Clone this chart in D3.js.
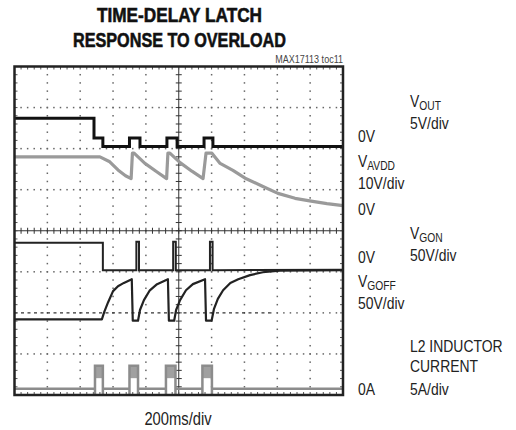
<!DOCTYPE html>
<html>
<head>
<meta charset="utf-8">
<script src="https://cdn.jsdelivr.net/npm/d3@7"></script>
<style>
  body { margin: 0; background: #fff; }
  svg text { font-family: "Liberation Sans", Arial, sans-serif; fill: #222; }
</style>
</head>
<body>
<svg id="chart" width="516" height="430"></svg>
<script>
// scope screen: x in divisions (200ms/div), y in divisions from the bottom edge
const xDivs = 10;
const yDivs = 8;

// VOUT (black, top trace)
const vout = [[0, 6.74], [2.42, 6.74], [2.42, 6.26], [2.69, 6.26], [2.69, 6.05], [3.5, 6.05], [3.5, 6.26],
  [3.82, 6.26], [3.82, 6.05], [4.64, 6.05], [4.64, 6.26], [4.95, 6.26], [4.95, 6.05], [5.77, 6.05],
  [5.77, 6.26], [6.04, 6.26], [6.04, 6.05], [10, 6.05]];

// VAVDD (grey)
const vavdd = [[0, 5.8], [2.6, 5.8], [2.9, 5.68], [3.15, 5.48], [3.38, 5.34], [3.55, 5.27], [3.59, 5.89],
  [3.64, 5.89], [3.97, 5.64], [4.34, 5.43], [4.63, 5.27], [4.67, 5.89], [4.73, 5.89], [5.04, 5.66],
  [5.4, 5.45], [5.74, 5.27], [5.83, 5.89], [6.01, 5.89], [6.26, 5.64], [6.65, 5.47], [7.02, 5.28],
  [7.53, 5.09], [8.02, 4.91], [8.54, 4.79], [9.03, 4.72], [9.51, 4.66], [10, 4.61]];

// VGON (black)
const vgon = [[0, 3.71], [2.69, 3.71], [2.69, 3.04], [3.71, 3.04], [3.71, 3.73], [3.79, 3.73], [3.79, 3.04],
  [4.83, 3.04], [4.83, 3.73], [4.91, 3.73], [4.91, 3.04], [5.95, 3.04], [5.95, 3.73], [6.03, 3.73],
  [6.03, 3.04], [10, 3.05]];

// VGOFF (black)
const vgoff = [[0, 1.84], [2.66, 1.84], [2.73, 2.02], [2.85, 2.26], [3.0, 2.53], [3.15, 2.65], [3.33, 2.73],
  [3.57, 2.82], [3.6, 1.81], [3.76, 1.81], [3.82, 2.07], [3.94, 2.31], [4.12, 2.55], [4.34, 2.7],
  [4.67, 2.82], [4.7, 1.81], [4.86, 1.81], [4.92, 2.07], [5.04, 2.31], [5.22, 2.55], [5.43, 2.7],
  [5.8, 2.82], [5.83, 1.81], [6.0, 1.81], [6.07, 2.09], [6.19, 2.34], [6.35, 2.55], [6.57, 2.73],
  [6.81, 2.82], [7.17, 2.92], [7.56, 2.99], [8.08, 3.03], [10, 3.04]];

// L2 inductor current: baseline level and switching bursts [start, end, top]
const iBase = 0.15;
const iBursts = [[2.45, 2.69, 0.71], [3.5, 3.76, 0.71], [4.61, 4.9, 0.71], [5.72, 6.01, 0.71]];

// dashed reference line on the screen [level, from, to]
const refLine = [2, 0, 7.78];

const titleLines = ["TIME-DELAY LATCH", "RESPONSE TO OVERLOAD"];

// right-hand labels: [x, baseline, main, subscript]
const labels = [
  [410, 107, "V", "OUT"], [410, 129, "5V/div", ""], [358, 142, "0V", ""],
  [358, 167, "V", "AVDD"], [358, 189, "10V/div", ""], [358, 215, "0V", ""],
  [410, 239, "V", "GON"], [410, 261, "50V/div", ""], [358, 263, "0V", ""],
  [358, 287, "V", "GOFF"], [358, 309, "50V/div", ""],
  [410, 352, "L2 INDUCTOR", ""], [410, 372, "CURRENT", ""], [410, 395, "5A/div", ""], [358, 395, "0A", ""]
];

const svg = d3.select("#chart");
const x = d3.scaleLinear().domain([0, xDivs]).range([14.5, 343]);
const y = d3.scaleLinear().domain([0, yDivs]).range([395, 66.5]);
const narrow = 0.82; // squeeze Arial metrics toward Helvetica Condensed

// title
svg.selectAll("text.title")
  .data(titleLines)
  .join("text")
  .attr("class", "title")
  .attr("x", 179.5)
  .attr("y", (d, i) => 21.5 + i * 25)
  .attr("text-anchor", "middle")
  .attr("textLength", (d, i) => [165, 213][i])
  .attr("lengthAdjust", "spacingAndGlyphs")
  .style("font-size", "21px")
  .style("font-weight", "bold")
  .style("fill", "#111")
  .style("stroke", "#111")
  .style("stroke-width", "0.6px")
  .text((d) => d);

svg.append("text")
  .attr("transform", `translate(343,63) scale(${narrow},1)`)
  .attr("text-anchor", "end")
  .style("font-size", "11px")
  .style("fill", "#444")
  .text("MAX17113 toc11");

// grid: dotted lines every division, 5 dots per division
const g = svg.append("g");
const minorX = d3.range(0, xDivs * 5 + 1).map((k) => k / 5);
const minorY = d3.range(0, yDivs * 5 + 1).map((k) => k / 5);

d3.range(1, xDivs).filter((i) => i !== 5).forEach((i) => {
  g.selectAll(null)
    .data(minorY.slice(1, -1))
    .join("rect")
    .attr("x", x(i) - 0.75).attr("y", (d) => y(d) - 0.75)
    .attr("width", 1.5).attr("height", 1.5)
    .attr("fill", "#666");
});
d3.range(1, yDivs).filter((i) => i !== 4).forEach((i) => {
  g.selectAll(null)
    .data(minorX.slice(1, -1).filter((d) => !(i === refLine[0] && d >= refLine[1] && d <= refLine[2])))
    .join("rect")
    .attr("x", (d) => x(d) - 0.75).attr("y", y(i) - 0.75)
    .attr("width", 1.5).attr("height", 1.5)
    .attr("fill", "#666");
});

// dashed reference
g.append("line")
  .attr("x1", x(refLine[1])).attr("x2", x(refLine[2]))
  .attr("y1", y(refLine[0])).attr("y2", y(refLine[0]))
  .attr("stroke", "#333").attr("stroke-width", 1.2)
  .attr("stroke-dasharray", "3,3.5");

// centre axes with minor ticks
g.append("line")
  .attr("x1", x(0)).attr("x2", x(xDivs)).attr("y1", y(4)).attr("y2", y(4))
  .attr("stroke", "#333").attr("stroke-width", 1);
g.append("line")
  .attr("x1", x(5)).attr("x2", x(5)).attr("y1", y(0)).attr("y2", y(yDivs))
  .attr("stroke", "#333").attr("stroke-width", 1);
g.selectAll(null).data(minorX).join("line")
  .attr("x1", (d) => x(d)).attr("x2", (d) => x(d))
  .attr("y1", y(4) - 3).attr("y2", y(4) + 3)
  .attr("stroke", "#333");
g.selectAll(null).data(minorY).join("line")
  .attr("y1", (d) => y(d)).attr("y2", (d) => y(d))
  .attr("x1", x(5) - 3).attr("x2", x(5) + 3)
  .attr("stroke", "#333");

// border ticks
[[minorX, "x", 0], [minorX, "x", yDivs], [minorY, "y", 0], [minorY, "y", xDivs]].forEach(([arr, dir, at]) => {
  g.selectAll(null).data(arr).join("line")
    .attr("x1", (d) => dir === "x" ? x(d) : x(at))
    .attr("x2", (d) => dir === "x" ? x(d) : x(at) + (at === 0 ? 3 : -3))
    .attr("y1", (d) => dir === "x" ? y(at) : y(d))
    .attr("y2", (d) => dir === "x" ? y(at) + (at === 0 ? -3 : 3) : y(d))
    .attr("stroke", "#555");
});

const line = d3.line().x((d) => x(d[0])).y((d) => y(d[1]));

// L2 current bursts
const cur = svg.append("g");
const curPath = [[0, iBase]];
iBursts.forEach(([s, e, top]) => {
  curPath.push([s, iBase], [s, -0.02], [s, top], [e, top], [e, -0.02], [e, iBase]);
});
curPath.push([xDivs, iBase]);
cur.selectAll("rect")
  .data(iBursts)
  .join("rect")
  .attr("x", (d) => x(d[0]))
  .attr("width", (d) => x(d[1]) - x(d[0]))
  .attr("y", (d) => y(d[2]))
  .attr("height", (d) => y(d[2] - 0.3) - y(d[2]))
  .attr("fill", "#a0a0a0");
cur.append("path")
  .attr("d", line(curPath))
  .attr("fill", "none")
  .attr("stroke", "#8c8c8c")
  .attr("stroke-width", 2.5);

svg.append("path").attr("d", line(vavdd)).attr("fill", "none")
  .attr("stroke", "#9a9a9a").attr("stroke-width", 3.2).attr("stroke-linejoin", "round");
svg.append("path").attr("d", line(vout)).attr("fill", "none")
  .attr("stroke", "#111").attr("stroke-width", 3);
svg.append("path").attr("d", line(vgon)).attr("fill", "none")
  .attr("stroke", "#222").attr("stroke-width", 2);
svg.append("path").attr("d", line(vgoff)).attr("fill", "none")
  .attr("stroke", "#222").attr("stroke-width", 2.2).attr("stroke-linejoin", "round");

// frame
svg.append("rect")
  .attr("x", x(0)).attr("y", y(yDivs))
  .attr("width", x(xDivs) - x(0)).attr("height", y(0) - y(yDivs))
  .attr("fill", "none").attr("stroke", "#222").attr("stroke-width", 2.5);

const lab = svg.selectAll("text.lab")
  .data(labels)
  .join("text")
  .attr("class", "lab")
  .attr("transform", (d) => `translate(${d[0]},${d[1]}) scale(${narrow},1)`)
  .style("font-size", "17px");
lab.append("tspan").text((d) => d[2]);
lab.filter((d) => d[3]).append("tspan")
  .attr("dy", 2.5)
  .style("font-size", "12.5px")
  .text((d) => d[3]);

svg.append("text")
  .attr("transform", `translate(178,425) scale(${narrow},1)`)
  .attr("text-anchor", "middle")
  .style("font-size", "18px")
  .text("200ms/div");
</script>
</body>
</html>
